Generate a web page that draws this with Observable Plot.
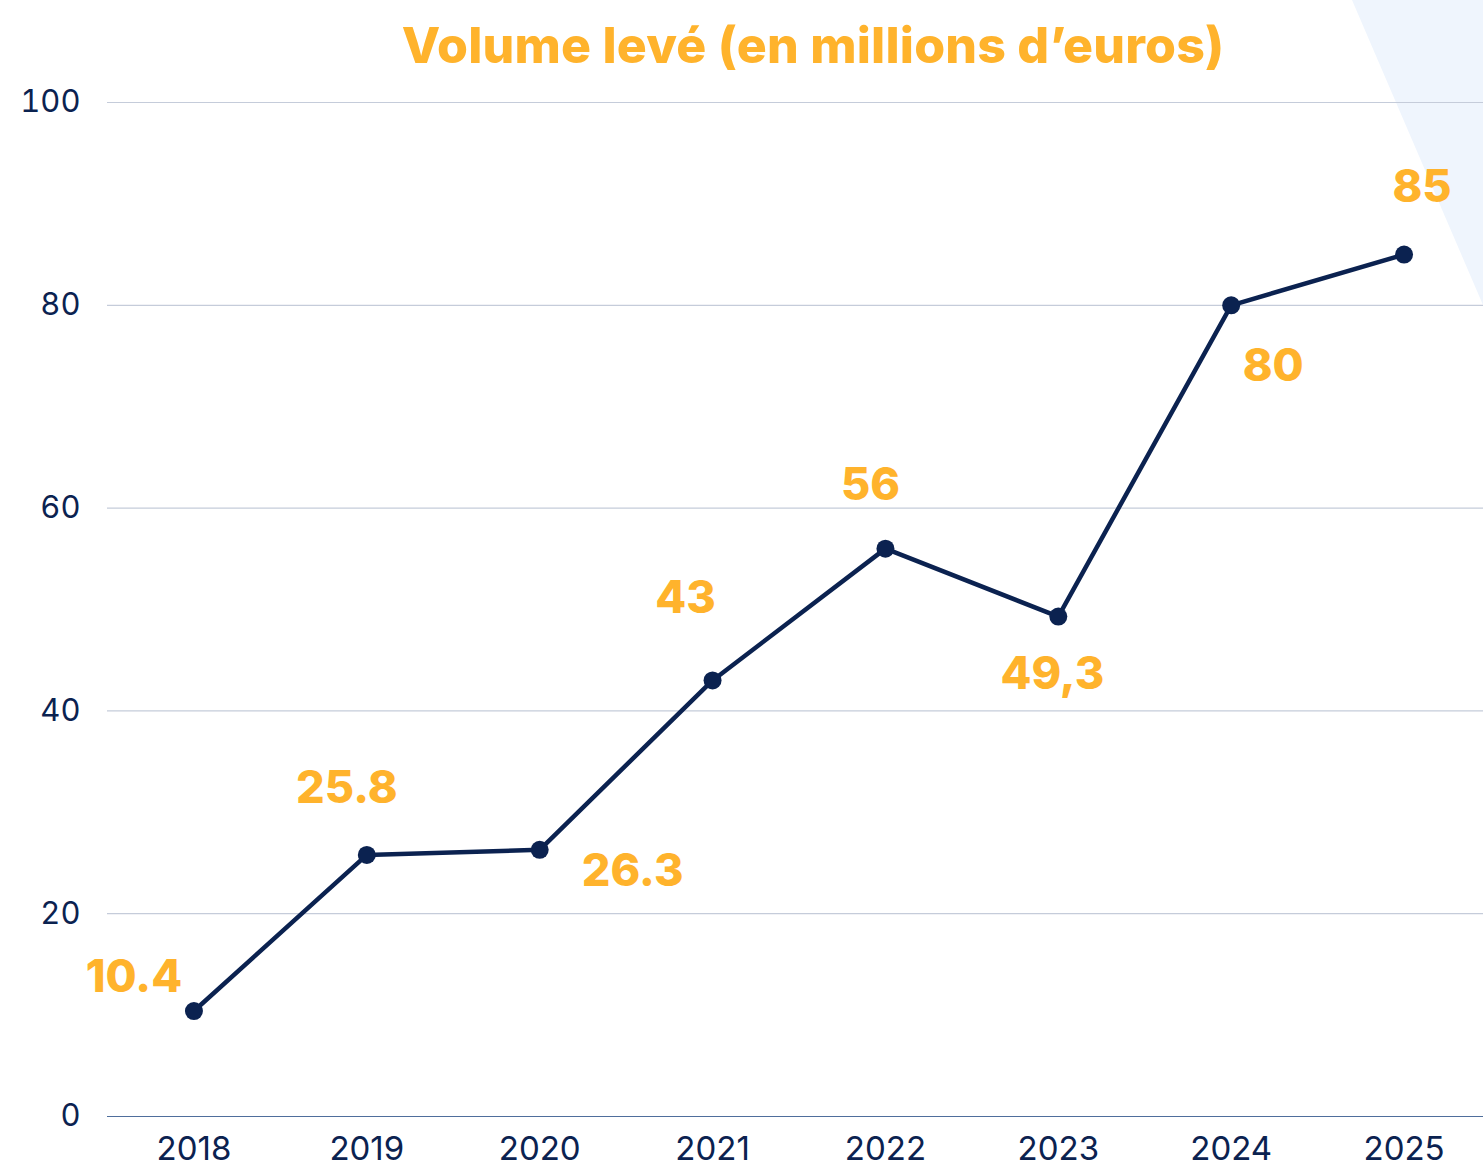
<!DOCTYPE html>
<html>
<head>
<meta charset="utf-8">
<script src="https://cdn.jsdelivr.net/npm/d3@7"></script>
<script src="https://cdn.jsdelivr.net/npm/@observablehq/plot@0.6"></script>
<style>
  html, body { margin: 0; padding: 0; background: #ffffff; }
  body { width: 1483px; height: 1166px; position: relative; overflow: hidden; font-family: Inter, "Noto Sans", sans-serif; }
  #deco { position: absolute; left: 0; top: 0; width: 1483px; height: 1166px; background: #eff5fd;
          clip-path: polygon(1352px 0, 1483px 0, 1483px 305px); z-index: 0; }
  #title { position: relative; z-index: 1; height: 80px; line-height: 90px; text-align: center; padding-left: 143px;
           color: #ffb32c; font-family: Inter, sans-serif; font-weight: 800; font-size: 50px; letter-spacing: 0.2px; white-space: nowrap; }
  #chart { position: relative; z-index: 1; }
  #chart svg { background: transparent !important; }
</style>
</head>
<body>
<div id="deco"></div>
<div id="title">Volume levé (en millions d’euros)</div>
<div id="chart"></div>
<script>
const years = ["2018", "2019", "2020", "2021", "2022", "2023", "2024", "2025"];
const values = [10.4, 25.8, 26.3, 43, 56, 49.3, 80, 85];
const valueLabels = ["10.4", "25.8", "26.3", "43", "56", "49,3", "80", "85"];
const yTicks = [0, 20, 40, 60, 80, 100];
// label offset relative to each point (dx, dy)
const labelOffsets = [[-60, -33], [-20, -66], [93, 22], [-27, -82], [-15, -63], [-6, 58], [42, 61], [18, -67]];

const data = years.map((y, i) => ({year: y, value: values[i], label: valueLabels[i]}));

const navy = "#0b2250";
const orange = "#ffb32c";

const labelMarks = data.map((d, i) => Plot.text([d], {
  x: "year", y: "value", text: "label",
  dx: labelOffsets[i][0], dy: labelOffsets[i][1],
  fill: orange, fontSize: 45, fontWeight: 800, fontFamily: "Inter, sans-serif"
}));

const chart = Plot.plot({
  width: 1483,
  height: 1086,
  marginTop: 22,
  marginBottom: 50,
  marginLeft: 107,
  marginRight: -7,
  style: {fontFamily: "Inter, sans-serif", background: "transparent", overflow: "visible"},
  x: {type: "point", domain: years, padding: 0.5, round: false, label: null},
  y: {domain: [0, 100], label: null},
  marks: [
    Plot.ruleY(yTicks.filter(t => t !== 0), {stroke: "#c5ccda", strokeWidth: 1.2}),
    Plot.ruleY([0], {stroke: "#4f6e9c", strokeWidth: 1.2}),
    Plot.axisY({ticks: yTicks, tickSize: 0, tickPadding: 27, fontSize: 31, fill: navy, label: null}),
    Plot.axisX({tickSize: 0, tickPadding: 20, fontSize: 33, fill: navy, label: null}),
    Plot.line(data, {x: "year", y: "value", stroke: navy, strokeWidth: 4.5}),
    Plot.dot(data, {x: "year", y: "value", r: 9, fill: navy, stroke: null}),
    ...labelMarks
  ]
});
document.getElementById("chart").appendChild(chart);
</script>
</body>
</html>
